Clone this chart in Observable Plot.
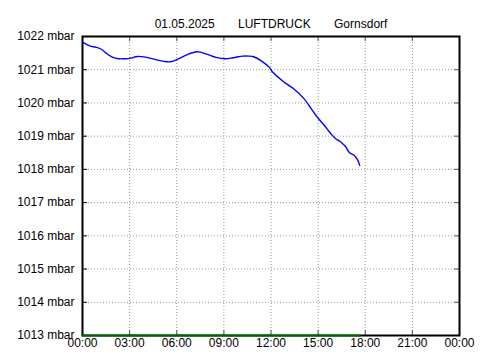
<!DOCTYPE html>
<html>
<head>
<meta charset="utf-8">
<script src="https://cdn.jsdelivr.net/npm/d3@7"></script>
<script src="https://cdn.jsdelivr.net/npm/@observablehq/plot@0.6"></script>
<style>
  html, body { margin: 0; padding: 0; background: #fff; }
  #chart svg { display: block; }
</style>
</head>
<body>
<div id="chart"></div>
<script>
// Data
const titleParts = ["01.05.2025", "LUFTDRUCK", "Gornsdorf"];
const hours = [0.0, 0.5, 1.0, 1.25, 1.5, 1.9, 2.3, 2.7, 3.0, 3.5, 4.0, 4.6, 5.2, 5.6, 6.0, 6.6, 7.3, 7.9, 8.5, 9.1, 9.6, 10.2, 10.6, 10.9, 11.4, 11.9, 12.1, 12.8, 13.4, 14.1, 14.6, 14.9, 15.4, 15.8, 16.1, 16.4, 16.75, 17.0, 17.3, 17.5, 17.65];
const pressure = [1021.83, 1021.71, 1021.66, 1021.60, 1021.50, 1021.38, 1021.33, 1021.33, 1021.34, 1021.40, 1021.38, 1021.31, 1021.25, 1021.24, 1021.30, 1021.44, 1021.54, 1021.47, 1021.37, 1021.33, 1021.36, 1021.41, 1021.41, 1021.39, 1021.26, 1021.07, 1020.93, 1020.64, 1020.44, 1020.13, 1019.80, 1019.60, 1019.32, 1019.08, 1018.93, 1018.84, 1018.68, 1018.50, 1018.42, 1018.30, 1018.12];
const baseHours = [0.0, 17.65];
const baseValues = [1013, 1013];
const xTicks = [0, 3, 6, 9, 12, 15, 18, 21, 24];
const xTickLabels = ["00:00", "03:00", "06:00", "09:00", "12:00", "15:00", "18:00", "21:00", "00:00"];
const yTicks = [1013, 1014, 1015, 1016, 1017, 1018, 1019, 1020, 1021, 1022];

const series = hours.map((h, i) => ({h, p: pressure[i]}));
const base = baseHours.map((h, i) => ({h, p: baseValues[i]}));

const W = 480, H = 360;
const mL = 82, mR = 21, mT = 36, mB = 25;
const innerW = W - mL - mR, innerH = H - mT - mB;
const tickLen = 5;

const chart = Plot.plot({
  width: W,
  height: H,
  marginLeft: mL,
  marginRight: mR,
  marginTop: mT,
  marginBottom: mB,
  style: {fontFamily: "'Liberation Sans', Arial, sans-serif", fontSize: "12px", color: "#000", background: "#fff"},
  x: {domain: [0, 24], ticks: xTicks, tickFormat: (d, i) => xTickLabels[xTicks.indexOf(d)], tickSize: 0, tickPadding: 3, label: null},
  y: {domain: [1013, 1022], ticks: yTicks, tickFormat: d => `${d} mbar`, tickSize: 0, tickPadding: 8, label: null},
  marks: [
    Plot.gridX(xTicks.slice(1, -1), {stroke: "#999", strokeOpacity: 1, strokeDasharray: "1,2"}),
    Plot.gridY(yTicks.slice(1, -1), {stroke: "#999", strokeOpacity: 1, strokeDasharray: "1,2"}),
    Plot.tickX(xTicks, {x: d => d, stroke: "#555", insetBottom: innerH - tickLen}),
    Plot.tickX(xTicks, {x: d => d, stroke: "#555", insetTop: innerH - tickLen}),
    Plot.tickY(yTicks, {y: d => d, stroke: "#000", insetRight: innerW - tickLen}),
    Plot.tickY(yTicks, {y: d => d, stroke: "#555", insetLeft: innerW - tickLen}),
    Plot.frame({stroke: "#000", strokeWidth: 2}),
    Plot.line(base, {x: "h", y: "p", stroke: "#006400", strokeWidth: 2}),
    Plot.line(series, {x: "h", y: "p", stroke: "#0000ff", strokeWidth: 1.4, curve: "catmull-rom"}),
    Plot.text([titleParts.join("\u00A0\u00A0\u00A0\u00A0\u00A0\u00A0\u00A0")], {frameAnchor: "top", text: d => d, dy: -17, fontSize: 12, fill: "#000"}),
    Plot.axisX({ticks: xTicks, tickFormat: d => xTickLabels[xTicks.indexOf(d)], tickSize: 0, tickPadding: 3, fontSize: 12}),
    Plot.axisY({ticks: yTicks, tickFormat: d => `${d} mbar`, tickSize: 0, tickPadding: 8, fontSize: 12})
  ]
});
document.getElementById("chart").appendChild(chart);
</script>
</body>
</html>
